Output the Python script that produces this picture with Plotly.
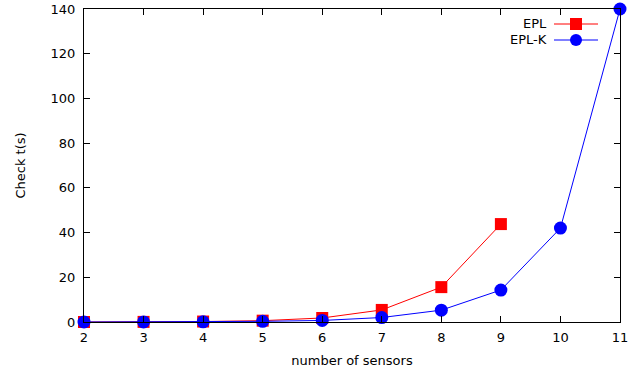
import plotly.graph_objects as go

sensors_epl = [2, 3, 4, 5, 6, 7, 8, 9]
epl = [0.0, 0.05, 0.2, 0.6, 1.8, 5.4, 15.6, 43.8]
sensors_eplk = [2, 3, 4, 5, 6, 7, 8, 9, 10, 11]
eplk = [0.0, 0.05, 0.1, 0.3, 0.7, 2.0, 5.3, 14.3, 42.0, 140.0]
x_ticks = [2, 3, 4, 5, 6, 7, 8, 9, 10, 11]
y_ticks = [0, 20, 40, 60, 80, 100, 120, 140]

FONT = "DejaVu Sans"
FS = 13
fig = go.Figure()
fig.add_trace(go.Scatter(x=sensors_epl, y=epl, mode="lines+markers", name="EPL",
                         line=dict(color="#ff0000", width=1),
                         marker=dict(symbol="square", size=12, color="#ff0000"),
                         cliponaxis=False))
fig.add_trace(go.Scatter(x=sensors_eplk, y=eplk, mode="lines+markers", name="EPL-K",
                         line=dict(color="#0000ff", width=1),
                         marker=dict(symbol="circle", size=13, color="#0000ff"),
                         cliponaxis=False))

# custom gnuplot-style legend (text right, sample to its right)
W, H = 644, 376
ml, mr, mt, mb = 84, 24, 9, 54
pw, ph = W - ml - mr, H - mt - mb
def px(xp): return (xp - ml) / pw
def py(yp): return 1 - (yp - mt) / ph

legend_items = [("EPL", "#ff0000", "square", 24), ("EPL-K", "#0000ff", "circle", 40)]
for label, col, sym, yp in legend_items:
    fig.add_annotation(x=px(549), y=py(yp), xref="paper", yref="paper", text=label,
                       showarrow=False, xanchor="right", yanchor="middle",
                       font=dict(family=FONT, size=FS, color="#000"))
    fig.add_shape(type="line", xref="paper", yref="paper", x0=px(554), x1=px(598),
                  y0=py(yp), y1=py(yp), line=dict(color=col, width=1))
    r = 6
    if sym == "square":
        fig.add_shape(type="rect", xref="paper", yref="paper", x0=px(576 - r), x1=px(576 + r),
                      y0=py(yp + r), y1=py(yp - r), fillcolor=col, line=dict(width=0))
    else:
        fig.add_shape(type="circle", xref="paper", yref="paper", x0=px(576 - r), x1=px(576 + r),
                      y0=py(yp + r), y1=py(yp - r), fillcolor=col, line=dict(width=0))

axis_common = dict(showgrid=False, zeroline=False, showline=True, linecolor="black",
                   linewidth=1, mirror="ticks", ticks="inside", ticklen=6, automargin=False,
                   tickcolor="black", tickfont=dict(family=FONT, size=FS, color="#000"))
fig.update_xaxes(range=[2, 11], tickvals=x_ticks, ticktext=[str(v) for v in x_ticks],
                 ticklabelstandoff=3,
                 title=dict(text="number of sensors", font=dict(family=FONT, size=FS, color="#000"), standoff=12),
                 **axis_common)
fig.update_yaxes(range=[0, 140], tickvals=y_ticks, ticklabelstandoff=5,
                 title=dict(text="Check t(s)", font=dict(family=FONT, size=FS, color="#000"), standoff=22),
                 **axis_common)
fig.update_layout(width=W, height=H, margin=dict(l=ml, r=mr, t=mt, b=mb),
                  plot_bgcolor="white", paper_bgcolor="white", showlegend=False,
                  font=dict(family=FONT, size=FS, color="#000"))
fig.write_html("out.html", config={"displayModeBar": False},
               post_script="document.body.style.margin='0';")
